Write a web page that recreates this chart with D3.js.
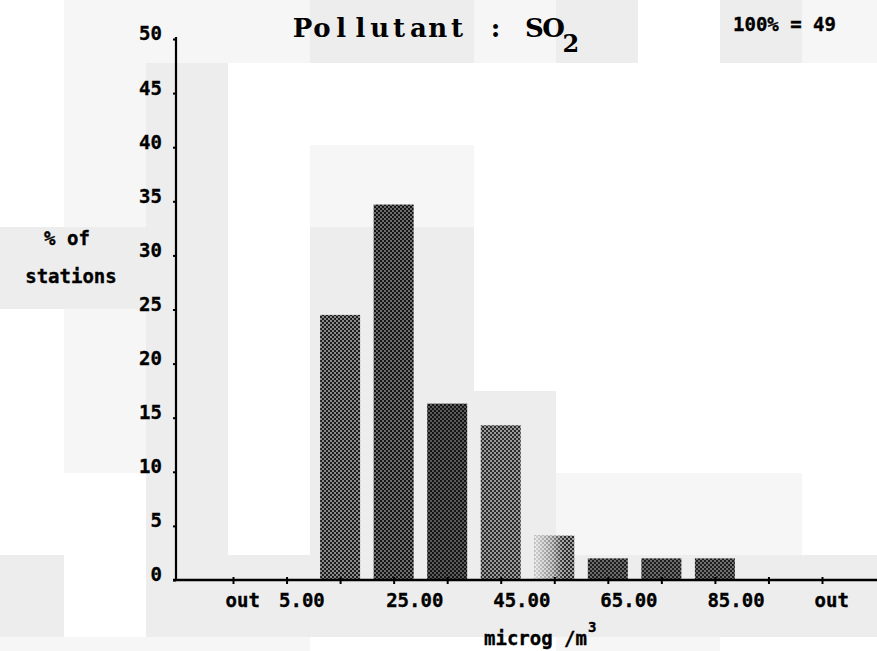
<!DOCTYPE html>
<html>
<head>
<meta charset="utf-8">
<script src="https://cdn.jsdelivr.net/npm/d3@7"></script>
<style>
  html, body { margin: 0; padding: 0; background: #fff; }
  svg { display: block; }
  .mono { font-family: "DejaVu Sans Mono", "Liberation Mono", monospace; font-weight: bold; fill: #000;
          font-size: 19px; stroke: #000; stroke-width: 0.35px; }
  .title { font-family: "DejaVu Serif", serif; font-weight: bold; fill: #000; }
</style>
</head>
<body>
<svg id="chart" width="877" height="651"></svg>
<script>
// Concentration classes (µg/m³): low "out", 5, 15 ... 95, high "out"
const binKeys = ["low", "5", "15", "25", "35", "45", "55", "65", "75", "85", "95", "high"];
// Share of stations in each class (%), 100% = 49 stations
const shareValues = [0, 0, 24.5, 34.7, 16.3, 14.3, 4.1, 2.0, 2.0, 2.0, 0, 0];
// Classes that carry a label under the axis, and their text
const labelKeys = ["low", "5", "25", "45", "65", "85", "high"];
const labelTexts = ["out", "5.00", "25.00", "45.00", "65.00", "85.00", "out"];
const yTicks = [0, 5, 10, 15, 20, 25, 30, 35, 40, 45, 50];
const totalStations = 49;

// Halftone shade per class: [dark dot, light dot]
const shades = [null, null,
  ["#1c1c1c", "#8a8a8a"], ["#141414", "#6e6e6e"], ["#141414", "#5a5a5a"],
  ["#2a2a2a", "#9a9a9a"], ["#2a2a2a", "#a0a0a0"], ["#1e1e1e", "#6a6a6a"],
  ["#1e1e1e", "#6a6a6a"], ["#1e1e1e", "#707070"], null, null];

// Scanner tile tones of the page (0 white, 1 faint, 2 light grey), 82px cells
const tileRows = [
  [0,1,1,1,2,2,1,2,0,2,1],
  [0,1,2,0,0,0,0,0,0,0,0],
  [0,1,2,0,1,1,0,0,0,0,0],
  [2,2,2,0,2,2,0,0,0,0,0],
  [0,1,2,0,2,2,0,0,0,0,0],
  [0,1,2,0,2,2,2,0,0,0,0],
  [0,0,2,0,2,2,2,1,1,1,0],
  [2,0,2,2,2,2,2,2,2,2,2],
  [1,1,1,1,0,0,0,1,1,0,0]
];
const tileTones = ["#ffffff", "#f6f6f6", "#ededed"];

const svg = d3.select("#chart");
const W = 877, H = 651;
const axisX = 176, axisY = 580, topY = 39;

// page tiles
const tileSize = 82, tileX0 = -18, tileY0 = -19;
const tiles = [];
tileRows.forEach((row, r) => row.forEach((t, c) => tiles.push({ r, c, t })));
svg.append("g").selectAll("rect").data(tiles).join("rect")
  .attr("x", d => tileX0 + d.c * tileSize)
  .attr("y", d => tileY0 + d.r * tileSize)
  .attr("width", tileSize).attr("height", tileSize)
  .attr("fill", d => tileTones[d.t]);

const x = d3.scalePoint().domain(binKeys).range([233, 822]);
const y = d3.scaleLinear().domain([0, 50]).range([axisY, topY]);
const barW = 40;

// halftone patterns
const defs = svg.append("defs");
shades.forEach((s, i) => {
  if (!s) return;
  const p = defs.append("pattern").attr("id", "ht" + i)
    .attr("patternUnits", "userSpaceOnUse").attr("width", 4).attr("height", 4);
  p.append("rect").attr("width", 4).attr("height", 4).attr("fill", s[1]);
  p.append("rect").attr("x", 0).attr("y", 0).attr("width", 2).attr("height", 2).attr("fill", s[0]);
  p.append("rect").attr("x", 2).attr("y", 2).attr("width", 2).attr("height", 2).attr("fill", s[0]);
});
const fade = defs.append("linearGradient").attr("id", "fade").attr("x1", 0).attr("x2", 1).attr("y1", 0).attr("y2", 0);
fade.append("stop").attr("offset", "0%").attr("stop-color", "#fff").attr("stop-opacity", 0.8);
fade.append("stop").attr("offset", "45%").attr("stop-color", "#fff").attr("stop-opacity", 0.45);
fade.append("stop").attr("offset", "75%").attr("stop-color", "#fff").attr("stop-opacity", 0);

const bars = binKeys.map((k, i) => ({ k, v: shareValues[i], i })).filter(d => d.v > 0);

svg.append("g").selectAll("rect").data(bars).join("rect")
  .attr("x", d => x(d.k) - barW / 2)
  .attr("y", d => y(d.v))
  .attr("width", barW)
  .attr("height", d => y(0) - y(d.v))
  .attr("fill", d => `url(#ht${d.i})`);

// the 45–55 class is printed with a lighter, graded screen
svg.append("g").selectAll("rect").data(bars.filter(d => d.k === "55")).join("rect")
  .attr("x", d => x(d.k) - barW / 2)
  .attr("y", d => y(d.v))
  .attr("width", barW)
  .attr("height", d => y(0) - y(d.v))
  .attr("fill", "url(#fade)");

// y axis
const yAxis = svg.append("g").attr("transform", `translate(${axisX},0)`)
  .call(d3.axisLeft(y).tickValues(yTicks).tickSize(3).tickSizeOuter(0).tickPadding(11));
yAxis.select(".domain").attr("stroke", "#000").attr("stroke-width", 2.2)
  .attr("d", `M0,${topY - 2}V${axisY}`);
yAxis.selectAll(".tick line").attr("stroke", "#000").attr("stroke-width", 2);
yAxis.selectAll(".tick text").attr("class", "mono").attr("dy", "0.05em");

// x axis
const labelMap = new Map(labelKeys.map((k, i) => [k, labelTexts[i]]));
const xAxis = svg.append("g").attr("transform", `translate(0,${axisY})`)
  .call(d3.axisBottom(x).tickSize(4).tickSizeOuter(0).tickFormat(k => labelMap.get(k) || ""));
xAxis.select(".domain").attr("stroke", "#000").attr("stroke-width", 2.5)
  .attr("d", `M${axisX - 3},0H${W}`);
xAxis.selectAll(".tick line").attr("stroke", "#000").attr("stroke-width", 2)
  .attr("y1", -3).attr("y2", 4);
xAxis.selectAll(".tick text").attr("class", "mono")
  .attr("text-anchor", "start").attr("x", -8).attr("y", 27).attr("dy", 0);

// title on a fixed typewriter pitch
const titleText = "Pollutant : SO";
const pitch = 19.3, titleX = 293;
svg.append("text").attr("class", "title").attr("y", 37)
  .style("font-size", "26px").attr("text-anchor", "middle")
  .attr("x", Array.from(titleText, (_, i) => (titleX + pitch * i + pitch / 2).toFixed(1)).join(" "))
  .text(titleText);
svg.append("text").attr("class", "title").attr("y", 52)
  .style("font-size", "24px").attr("text-anchor", "middle")
  .attr("x", titleX + pitch * titleText.length + pitch / 2 - 2)
  .text("2");

svg.append("text").attr("class", "mono").attr("x", 733).attr("y", 31)
  .text(`100% = ${totalStations}`);

svg.append("text").attr("class", "mono").attr("x", 67).attr("y", 245)
  .attr("text-anchor", "middle").text("% of");
svg.append("text").attr("class", "mono").attr("x", 71).attr("y", 283)
  .attr("text-anchor", "middle").text("stations");

const unit = svg.append("text").attr("class", "mono").attr("x", 484).attr("y", 645);
unit.append("tspan").text("microg /m");
unit.append("tspan").attr("dx", 1).attr("dy", -13).style("font-size", "14px").text("3");
</script>
</body>
</html>
